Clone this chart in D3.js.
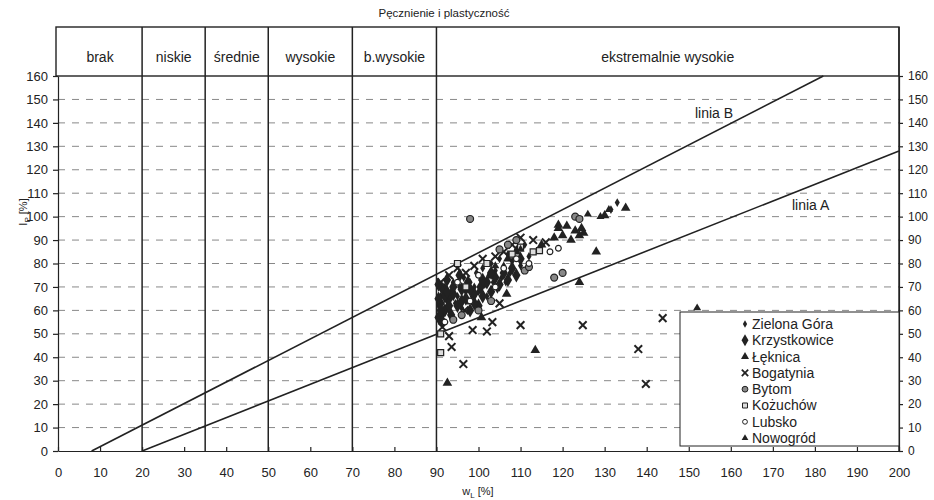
<!DOCTYPE html>
<html>
<head>
<meta charset="utf-8">
<script src="https://cdnjs.cloudflare.com/ajax/libs/d3/7.8.5/d3.min.js"></script>
<style>
body { margin: 0; background: #fff; }
svg text { font-family: "Liberation Sans", Arial, sans-serif; fill: #222; }
.axis path, .axis line { stroke: #222; stroke-width: 1.2; }
.axis text { font-size: 13px; }
</style>
</head>
<body>
<div id="chart"></div>
<script>
// swelling classes (w_L boundaries) and their labels
var zoneBreaks = [0, 20, 35, 50, 70, 90, 200];
var zoneLabels = ["brak", "niskie", "średnie", "wysokie", "b.wysokie", "ekstremalnie wysokie"];

var xTicks = d3.range(0, 201, 10);
var yTicks = d3.range(0, 161, 10);

// reference lines
var lineA = [[20, 0], [200, 128]];
var lineB = [[8, 0], [182, 160]];

var seriesNames = ["Zielona Góra", "Krzystkowice", "Łęknica", "Bogatynia", "Bytom", "Kożuchów", "Lubsko", "Nowogród"];

var zielonaGora = [[90.5,62],[91,66],[91.5,58],[92,70],[92.5,64],[93,60],[93.5,68],[94,72],[94.5,63],[95,66],
  [95.5,70],[96,61],[96.5,74],[97,68],[97.5,64],[98,72],[98.5,66],[99,70],[99.5,76],[100,68],[100.5,73],
  [101,78],[101.5,71],[102,66],[102.5,75],[103,80],[103.5,72],[104,77],[104.5,69],[105,82],[105.5,74],
  [106,79],[106.5,72],[107,84],[107.5,76],[108,81],[109,86],[110,79],[111,88],[112,83],[131.5,103],[133,106]];
var krzystkowice = [[90.5,57],[91,63],[91.5,69],[92,60],[92.5,73],[93,65],[93.5,58],[94,67],[95,62],[95.5,75],
  [96,69],[97,65],[97.5,72],[98,60],[99,67],[100,62],[100.5,70],[101,66],[102,72],[103,68],[104,74],
  [105,71],[106,76],[107,73],[108,78],[109,75],[110,82],[91,60],[92,66],[90.5,71],[90.5,65],[91.5,55],
  [92.5,68],[93,62],[94,70],[96,64],[98,69],[99,63],[101,73],[103,76]];
var leknica = [[118,91],[119,95],[120,92],[121,96],[122,90],[123,94],[124,92],[124.5,95],[125,93],[128,85],
  [124,72],[106.7,67],[100.7,57],[113.5,43],[92.6,29],[119,96.4],[135,103.7],[130,100.5],[107,82],[109,85],[115,88]];
var bogatynia = [[96.7,60],[105,63],[103.3,55],[98.6,51.6],[102,51],[110,53.7],[124.8,53.7],[143.8,56.7],
  [138,43.5],[139.8,28.6],[91.4,52.9],[93,49],[93.6,44.4],[96.4,37.1],[91,72],[93,75],[95,78],[97,76],
  [99,79],[101,82],[104,83],[106,85],[108,88],[110,91],[113,90],[116,89]];
var bytom = [[98,99],[94,56],[96,58],[100,60],[103,64],[111,77],[112,78.5],[118,74],[120,76],[123,100],
  [124,99],[105,86],[107,88],[109,90]];
var kozuchow = [[91,42],[113,85],[114.5,85.5],[91,50],[102,80],[108,84],[110,87],[97,70],[95,80]];
var lubsko = [[117,85],[119,86.5],[104,70],[106,78],[109,82],[98,64],[100,75],[92,55],[95,72],[112,80]];
var nowogrod = [[152,61],[129,100],[126,101],[131,103],[104,79],[110,86]];

var seriesData = [zielonaGora, krzystkowice, leknica, bogatynia, bytom, kozuchow, lubsko, nowogrod];

var width = 934, height = 500;

var svg = d3.select("#chart").append("svg")
  .attr("width", width)
  .attr("height", height);

var x = d3.scaleLinear().domain([0, 200]).range([58, 899]);
var y = d3.scaleLinear().domain([0, 160]).range([451, 76]);
var bandTop = 27;

// marker styles per series
var symX = d3.symbolTimes || d3.symbolX;
var markers = [
  { type: d3.symbolDiamond, size: 22, fill: "#222", stroke: "none" },
  { type: d3.symbolDiamond, size: 60, fill: "#222", stroke: "none" },
  { type: d3.symbolTriangle, size: 40, fill: "#222", stroke: "none" },
  { type: symX, size: 40, fill: "none", stroke: "#222" },
  { type: d3.symbolCircle, size: 38, fill: "#888", stroke: "#222" },
  { type: d3.symbolSquare, size: 36, fill: "#ddd", stroke: "#222" },
  { type: d3.symbolCircle, size: 26, fill: "#fff", stroke: "#222" },
  { type: d3.symbolTriangle, size: 28, fill: "#222", stroke: "none" }
];

// title
svg.append("text")
  .attr("x", 444).attr("y", 17)
  .attr("text-anchor", "middle")
  .style("font-size", "11.5px")
  .text("Pęcznienie i plastyczność");

// header band
svg.append("rect")
  .attr("x", x(0) - 2).attr("y", bandTop)
  .attr("width", x(200) - x(0) + 2).attr("height", y(160) - bandTop)
  .attr("fill", "none").attr("stroke", "#222").attr("stroke-width", 1.4);

svg.selectAll(".zoneLabel")
  .data(zoneLabels)
  .enter().append("text")
  .attr("class", "zoneLabel")
  .attr("x", function(d, i) { return (x(zoneBreaks[i]) + x(zoneBreaks[i + 1])) / 2; })
  .attr("y", 62)
  .attr("text-anchor", "middle")
  .style("font-size", "14px")
  .text(function(d) { return d; });

// horizontal dashed grid
svg.selectAll(".grid")
  .data(yTicks.filter(function(d) { return d > 0 && d < 160; }))
  .enter().append("line")
  .attr("class", "grid")
  .attr("x1", x(0)).attr("x2", x(200))
  .attr("y1", function(d) { return y(d); })
  .attr("y2", function(d) { return y(d); })
  .attr("stroke", "#888")
  .attr("stroke-width", 1)
  .attr("stroke-dasharray", "7,7");

// zone boundaries
svg.selectAll(".zoneLine")
  .data(zoneBreaks.slice(1, -1))
  .enter().append("line")
  .attr("class", "zoneLine")
  .attr("x1", function(d) { return x(d); })
  .attr("x2", function(d) { return x(d); })
  .attr("y1", bandTop).attr("y2", y(0))
  .attr("stroke", "#222").attr("stroke-width", 1.5);

// axes
svg.append("g").attr("class", "axis")
  .attr("transform", "translate(0," + y(0) + ")")
  .call(d3.axisBottom(x).tickValues(xTicks).tickSizeInner(-4).tickSizeOuter(0).tickPadding(17))
  .selectAll("text").attr("dy", "0.71em");

svg.append("g").attr("class", "axis")
  .attr("transform", "translate(" + x(0) + ",0)")
  .call(d3.axisLeft(y).tickValues(yTicks).tickSizeInner(5).tickSizeOuter(0).tickPadding(5));

svg.append("g").attr("class", "axis")
  .attr("transform", "translate(" + x(200) + ",0)")
  .call(d3.axisRight(y).tickValues(yTicks).tickSizeInner(4).tickSizeOuter(0).tickPadding(5))
  .selectAll("text").style("font-size", "12px");

svg.append("line")
  .attr("x1", x(200)).attr("x2", x(200))
  .attr("y1", bandTop).attr("y2", y(0))
  .attr("stroke", "#222").attr("stroke-width", 1.4);

// reference lines
var lineGen = d3.line()
  .x(function(d) { return x(d[0]); })
  .y(function(d) { return y(d[1]); });

[lineA, lineB].forEach(function(l) {
  svg.append("path")
    .attr("d", lineGen(l))
    .attr("fill", "none")
    .attr("stroke", "#222")
    .attr("stroke-width", 1.6);
});

svg.append("text").attr("x", 695).attr("y", 118).style("font-size", "14px").text("linia B");
svg.append("text").attr("x", 792).attr("y", 210).style("font-size", "14px").text("linia A");

// scatter
seriesData.forEach(function(data, i) {
  var m = markers[i];
  svg.append("g").selectAll("path")
    .data(data)
    .enter().append("path")
    .attr("transform", function(d) { return "translate(" + x(d[0]) + "," + y(d[1]) + ")"; })
    .attr("d", d3.symbol().type(m.type).size(m.size))
    .attr("fill", m.fill)
    .attr("stroke", m.stroke)
    .attr("stroke-width", i === 3 ? 2 : 1.2);
});

// legend
var legend = svg.append("g");
legend.append("rect")
  .attr("x", 680).attr("y", 312)
  .attr("width", x(200) - 680).attr("height", y(0) - 312 - 5)
  .attr("fill", "#fff").attr("stroke", "#222").attr("stroke-width", 1);

var items = legend.selectAll(".item")
  .data(seriesNames)
  .enter().append("g")
  .attr("class", "item")
  .attr("transform", function(d, i) { return "translate(745," + (324 + i * 16.3) + ")"; });

items.append("path")
  .attr("d", function(d, i) { return d3.symbol().type(markers[i].type).size(markers[i].size * 0.7)(); })
  .attr("fill", function(d, i) { return markers[i].fill; })
  .attr("stroke", function(d, i) { return markers[i].stroke; })
  .attr("stroke-width", function(d, i) { return i === 3 ? 1.8 : 1; });

items.append("text")
  .attr("x", 7).attr("dy", "0.35em")
  .style("font-size", "14px")
  .text(function(d) { return d; });

// axis titles
var yTitle = svg.append("text")
  .attr("transform", "translate(27,212) rotate(-90)")
  .attr("text-anchor", "middle")
  .style("font-size", "11px");
yTitle.append("tspan").text("I");
yTitle.append("tspan").attr("dy", 3).style("font-size", "8px").text("P");
yTitle.append("tspan").attr("dy", -3).text(" [%]");

var xTitle = svg.append("text")
  .attr("x", 478).attr("y", 495)
  .attr("text-anchor", "middle")
  .style("font-size", "11px");
xTitle.append("tspan").text("w");
xTitle.append("tspan").attr("dy", 3).style("font-size", "8px").text("L");
xTitle.append("tspan").attr("dy", -3).text(" [%]");
</script>
</body>
</html>
